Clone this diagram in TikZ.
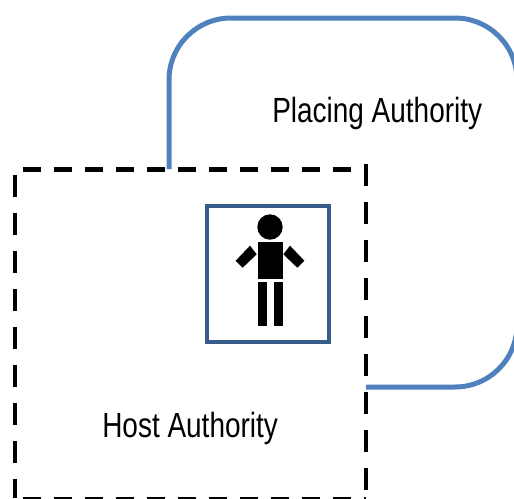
\documentclass[tikz,border=0pt]{standalone}
\usepackage{fontspec}
\setmainfont{Liberation Sans}
\usepackage{tikz}

\tikzset{
    authority/.style={font=\fontsize{19.9pt}{24pt}\selectfont, xscale=0.8, transform shape, inner sep=0pt, anchor=base west},
    hostedge/.style={black, line width=0.1cm},
    hostside/.style={black, line width=0.08cm}
}

\begin{document}
\begin{tikzpicture}[x=0.02cm, y=-0.02cm]
    \useasboundingbox (0,0) rectangle (514,498);
    \clip (0,0) rectangle (514,498);

    % Placing authority outline
    \draw[color={rgb,255:red,79;green,129;blue,189}, line width=0.1cm, rounded corners=1.24cm]
        (169,169) -- (169,18) -- (517,18) -- (517,387) -- (366,387);

    % Host authority, dashed on each side
    \draw[hostedge, dash pattern=on 0.36cm off 0.26cm] (23,169) -- (366,169);
    \draw[hostedge, dash pattern=on 0.36cm off 0.26cm] (23,499.5) -- (366,499.5);
    \draw[hostside, dash pattern=on 0.44cm off 0.32cm] (15,175) -- (15,498);
    \draw[hostside, dash pattern=on 0.44cm off 0.32cm] (365.5,164) -- (365.5,498);

    % Person box
    \draw[color={rgb,255:red,56;green,93;blue,138}, line width=0.09cm] (207,206) rectangle (329,342);
    \fill[black] (270,227) circle (12.7);
    \fill[black] (257.5,242) rectangle (283,279);
    \fill[black] (257.5,282) rectangle (266.5,326);
    \fill[black] (273.5,282) rectangle (283,326);
    \fill[black] (250,245.7) -- (256.7,254.3) -- (242.7,267.7) -- (235.7,260.7) -- cycle;
    \fill[black] (290,245.7) -- (283.3,254.3) -- (297.3,267.7) -- (304.3,260.7) -- cycle;

    \node[authority] (placing) at (272,122) {Placing Authority};
    \node[authority] (host) at (102,437) {Host Authority};
\end{tikzpicture}
\end{document}
